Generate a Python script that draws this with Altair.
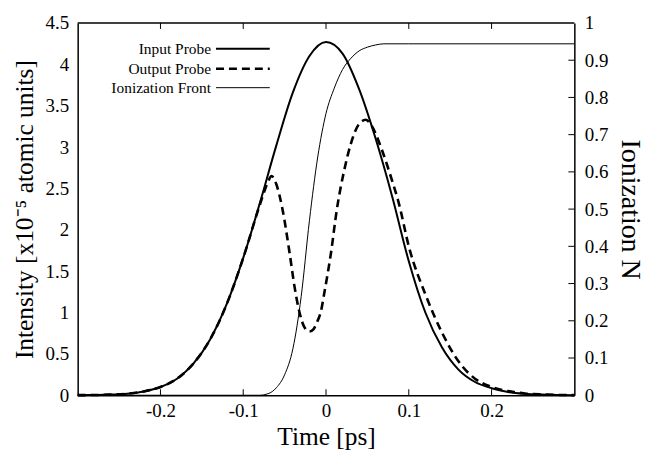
import altair as alt
import pandas as pd

# ---- data ----
t_input = [-0.30, -0.28, -0.26, -0.24, -0.22, -0.20, -0.18, -0.16, -0.14, -0.12, -0.10,
           -0.08, -0.06, -0.04, -0.02, 0.00, 0.02, 0.04, 0.06, 0.08, 0.10, 0.12, 0.14,
           0.16, 0.18, 0.20, 0.22, 0.24, 0.26, 0.28, 0.30]
v_input = [0.001, 0.003, 0.0075, 0.019, 0.046, 0.10, 0.20, 0.385, 0.675, 1.10, 1.66,
           2.32, 3.02, 3.66, 4.10, 4.27, 4.13, 3.70, 3.10, 2.40, 1.62, 1.00, 0.58,
           0.31, 0.16, 0.085, 0.04, 0.018, 0.008, 0.003, 0.001]

t_output = [-0.30, -0.28, -0.26, -0.24, -0.22, -0.20, -0.18, -0.16, -0.14, -0.12, -0.10,
            -0.08, -0.07, -0.066, -0.06, -0.053, -0.044, -0.038, -0.032, -0.026, -0.02,
            -0.015, -0.011, -0.006, -0.002, 0.006, 0.013, 0.022, 0.030, 0.040, 0.048,
            0.055, 0.067, 0.079, 0.088, 0.10, 0.12, 0.14, 0.16, 0.18, 0.20, 0.22, 0.24,
            0.26, 0.28, 0.30]
v_output = [0.001, 0.003, 0.0075, 0.019, 0.046, 0.10, 0.20, 0.385, 0.675, 1.10, 1.66,
            2.30, 2.58, 2.65, 2.55, 2.27, 1.72, 1.31, 1.00, 0.82, 0.77,
            0.80, 0.88, 1.02, 1.24, 1.72, 2.24, 2.72, 3.04, 3.28, 3.33,
            3.26, 2.98, 2.62, 2.32, 1.80, 1.22, 0.76, 0.41, 0.20, 0.10, 0.05, 0.022,
            0.01, 0.004, 0.001]

t_ion = [-0.30, -0.10, -0.08, -0.07, -0.06, -0.05, -0.04, -0.03, -0.02, -0.01, 0.00,
         0.01, 0.02, 0.03, 0.04, 0.05, 0.06, 0.07, 0.10, 0.30]
n_ion = [0.0, 0.0, 0.0, 0.004, 0.02, 0.055, 0.125, 0.265, 0.47, 0.64, 0.757,
         0.825, 0.875, 0.905, 0.925, 0.935, 0.941, 0.944, 0.944, 0.944]

x_domain = [-0.3, 0.3]
y_left_domain = [0, 4.5]
y_right_domain = [0, 1]
x_ticks = [-0.2, -0.1, 0.0, 0.1, 0.2]
y_left_ticks = [0, 0.5, 1, 1.5, 2, 2.5, 3, 3.5, 4, 4.5]
y_right_ticks = [0, 0.1, 0.2, 0.3, 0.4, 0.5, 0.6, 0.7, 0.8, 0.9, 1.0]
y_right_inner_ticks = [0.1, 0.2, 0.3, 0.4, 0.5, 0.6, 0.7, 0.8, 0.9]
legend_labels = ["Input Probe", "Output Probe", "Ionization Front"]

W, H = 499, 374
FONT = "Liberation Serif"
LABEL_EXPR = "replace(format(datum.value, '~g'), '\u2212', '-')"

df_in = pd.DataFrame({"t": t_input, "v": v_input})
df_out = pd.DataFrame({"t": t_output, "v": v_output})
df_ion = pd.DataFrame({"t": t_ion, "n": n_ion})
df_xt = pd.DataFrame({"t": x_ticks})
df_rt = pd.DataFrame({"n": y_right_inner_ticks})
df_top = pd.DataFrame({"t": [x_domain[0]], "t2": [x_domain[1]], "v": [y_left_domain[1]]})

AX = dict(ticks=False, domain=True, domainColor="black", domainWidth=1.5, grid=False,
          labelFont=FONT, labelFontSize=19, labelColor="black", titleFont=FONT,
          titleFontWeight="normal", titleColor="black", labelExpr=LABEL_EXPR)

x_enc = alt.X("t:Q",
              scale=alt.Scale(domain=x_domain, nice=False, zero=False),
              axis=alt.Axis(values=x_ticks, title="Time [ps]", labelPadding=6,
                            titlePadding=4, titleFontSize=25.5, **AX))

y_left = alt.Y("v:Q",
               scale=alt.Scale(domain=y_left_domain, nice=False, zero=False),
               axis=alt.Axis(orient="left", values=y_left_ticks,
                             title="Intensity [x10\u207b\u2075 atomic units]",
                             labelPadding=9, titlePadding=8, titleFontSize=25.5, **AX))

y_right = alt.Y("n:Q",
                scale=alt.Scale(domain=y_right_domain, nice=False, zero=False),
                axis=alt.Axis(orient="right", values=y_right_ticks, title="Ionization N",
                              labelPadding=10, titlePadding=8, titleFontSize=28, **AX))

line_in = alt.Chart(df_in).mark_line(color="black", strokeWidth=2,
                                     interpolate="monotone").encode(x=x_enc, y=y_left)
line_out = alt.Chart(df_out).mark_line(color="black", strokeWidth=2.6, strokeDash=[8, 5],
                                       interpolate="monotone").encode(x=x_enc, y=y_left)

ticks_bottom = alt.Chart(df_xt).mark_rule(color="black", strokeWidth=1).encode(
    x=x_enc, y=alt.value(H), y2=alt.value(H - 6))
ticks_top = alt.Chart(df_xt).mark_rule(color="black", strokeWidth=1).encode(
    x=x_enc, y=alt.value(0), y2=alt.value(6))

# top border of the frame (other three sides are the axis domains)
top_border = alt.Chart(df_top).mark_rule(color="black", strokeWidth=1.5).encode(
    x=x_enc, x2="t2:Q", y=y_left)

leg_df = pd.DataFrame({"label": legend_labels})
legend_layers = []
leg_y = [26, 46, 65]
leg_styles = [dict(strokeWidth=2), dict(strokeWidth=2.6, strokeDash=[8, 5]), dict(strokeWidth=1)]
for i, lab in enumerate(legend_labels):
    sub = leg_df.iloc[[i]]
    legend_layers.append(
        alt.Chart(sub).mark_text(align="right", baseline="middle", font=FONT,
                                 fontSize=15.5, color="black").encode(
            text="label:N", x=alt.value(134), y=alt.value(leg_y[i])))
    legend_layers.append(
        alt.Chart(sub).mark_rule(color="black", **leg_styles[i]).encode(
            x=alt.value(139), x2=alt.value(193), y=alt.value(leg_y[i])))

left_group = alt.layer(line_in, line_out, ticks_bottom, ticks_top, top_border,
                       *legend_layers)

line_ion = alt.Chart(df_ion).mark_line(color="black", strokeWidth=1,
                                       interpolate="monotone").encode(x=x_enc, y=y_right)
ticks_right = alt.Chart(df_rt).mark_rule(color="black", strokeWidth=1).encode(
    y=y_right, x=alt.value(W - 6), x2=alt.value(W))
right_group = alt.layer(line_ion, ticks_right)

chart = alt.layer(left_group, right_group).resolve_scale(y="independent").properties(
    width=W, height=H, background="white",
    padding={"left": 4, "top": 5, "right": 5, "bottom": 5}
).configure_view(stroke=None)

chart.save("out.html", embed_options={"renderer": "svg", "actions": False})
